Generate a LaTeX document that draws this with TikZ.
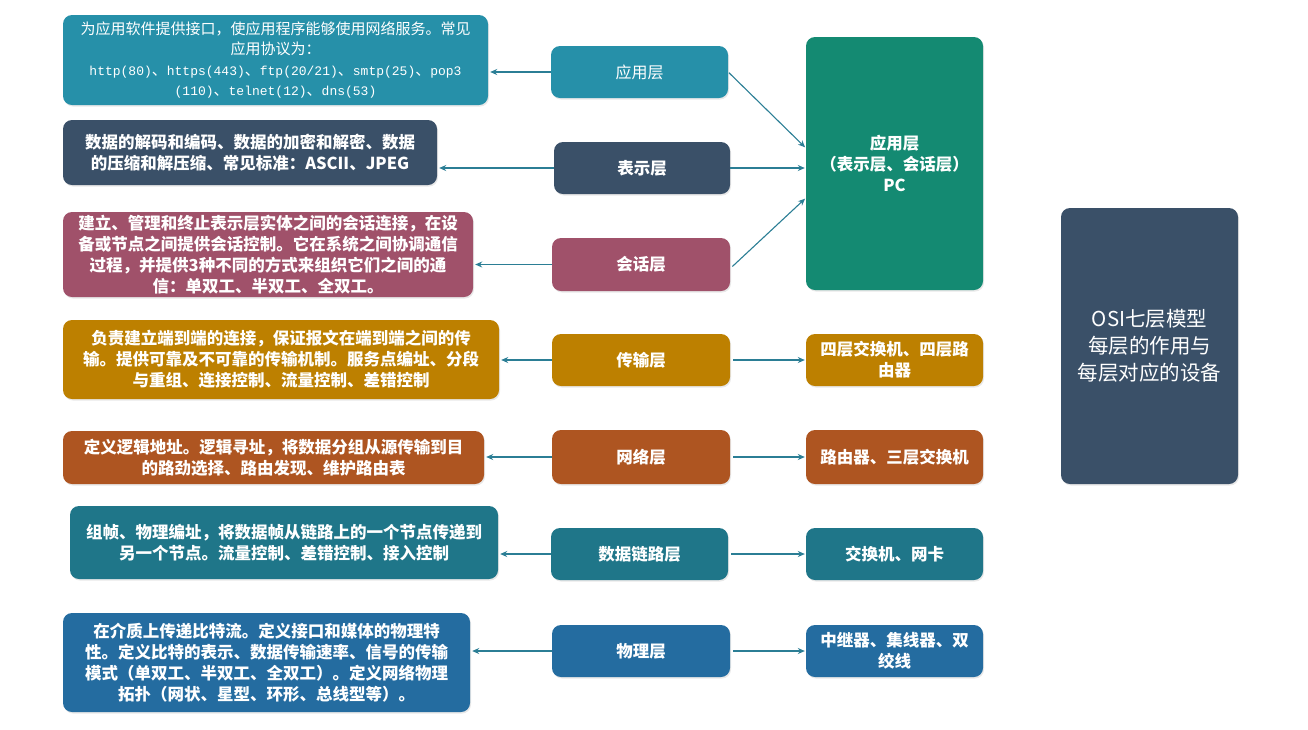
\documentclass[tikz,border=0pt]{standalone}
\usepackage{fontspec}
\setmainfont{Noto Sans CJK SC}
\newfontfamily\monofnt{Liberation Mono}
\usetikzlibrary{arrows.meta,shadows}
\definecolor{cApp}{HTML}{2690A9}
\definecolor{cPres}{HTML}{3A5068}
\definecolor{cSess}{HTML}{A0516A}
\definecolor{cTrans}{HTML}{BD8000}
\definecolor{cNet}{HTML}{AE5521}
\definecolor{cLink}{HTML}{1F7689}
\definecolor{cPhys}{HTML}{246CA0}
\definecolor{cPC}{HTML}{148A72}
\definecolor{cArr}{HTML}{2B7E95}
\tikzset{
  box/.style={rounded corners=9pt, text=white, align=center, inner sep=0pt,
    drop shadow={opacity=0.18, shadow xshift=1pt, shadow yshift=-1.5pt}},
  txt/.style={font=\fontsize{16.5}{21}\selectfont\bfseries},
  arr/.style={draw=cArr, line width=1.1pt, -{Stealth[length=7pt,width=6pt]}},
}
\begin{document}
\begin{tikzpicture}[x=1pt,y=-1pt]
\useasboundingbox[fill=white] (0,0) rectangle (1308,729);
% left description boxes
\node[box, fill=cApp, minimum width=425, minimum height=90, font=\fontsize{15}{20.5}\selectfont] (d1) at (275.5,60)
 {为应用软件提供接口，使应用程序能够使用网络服务。常见\\应用协议为：\\
 {\monofnt\fontsize{13}{20.5}\selectfont http(80)}、{\monofnt\fontsize{13}{20.5}\selectfont https(443)}、{\monofnt\fontsize{13}{20.5}\selectfont ftp(20/21)}、{\monofnt\fontsize{13}{20.5}\selectfont smtp(25)}、{\monofnt\fontsize{13}{20.5}\selectfont pop3}\\
 {\monofnt\fontsize{13}{20.5}\selectfont (110)}、{\monofnt\fontsize{13}{20.5}\selectfont telnet(12)}、{\monofnt\fontsize{13}{20.5}\selectfont dns(53)}};
\node[box, txt, fill=cPres, minimum width=374, minimum height=65] (d2) at (250,152.5)
 {数据的解码和编码、数据的加密和解密、数据\\的压缩和解压缩、常见标准：ASCII、JPEG};
\node[box, txt, fill=cSess, minimum width=410, minimum height=85] (d3) at (268,254.5)
 {建立、管理和终止表示层实体之间的会话连接，在设\\备或节点之间提供会话控制。它在系统之间协调通信\\过程，并提供3种不同的方式来组织它们之间的通\\信：单双工、半双工、全双工。};
\node[box, txt, fill=cTrans, minimum width=436, minimum height=79] (d4) at (281,359.5)
 {负责建立端到端的连接，保证报文在端到端之间的传\\输。提供可靠及不可靠的传输机制。服务点编址、分段\\与重组、连接控制、流量控制、差错控制};
\node[box, txt, fill=cNet, minimum width=421, minimum height=53] (d5) at (273.5,457.5)
 {定义逻辑地址。逻辑寻址，将数据分组从源传输到目\\的路劲选择、路由发现、维护路由表};
\node[box, txt, fill=cLink, minimum width=428, minimum height=73] (d6) at (284,542.5)
 {组帧、物理编址，将数据帧从链路上的一个节点传递到\\另一个节点。流量控制、差错控制、接入控制};
\node[box, txt, fill=cPhys, minimum width=407, minimum height=99] (d7) at (266.5,662.5)
 {在介质上传递比特流。定义接口和媒体的物理特\\性。定义比特的表示、数据传输速率、信号的传输\\模式（单双工、半双工、全双工）。定义网络物理\\拓扑（网状、星型、环形、总线型等）。};
% middle layer boxes
\node[box, fill=cApp, minimum width=177, minimum height=52, font=\fontsize{16}{21}\selectfont] (m1) at (639.5,72) {应用层};
\node[box, txt, fill=cPres, minimum width=176, minimum height=52] (m2) at (642,168) {表示层};
\node[box, txt, fill=cSess, minimum width=178, minimum height=53] (m3) at (641,264.5) {会话层};
\node[box, txt, fill=cTrans, minimum width=178, minimum height=52] (m4) at (641,360) {传输层};
\node[box, txt, fill=cNet, minimum width=178, minimum height=54] (m5) at (641,457) {网络层};
\node[box, txt, fill=cLink, minimum width=177, minimum height=52] (m6) at (639.5,554) {数据链路层};
\node[box, txt, fill=cPhys, minimum width=178, minimum height=52] (m7) at (641,651) {物理层};
% right device boxes
\node[box, txt, fill=cPC, minimum width=177, minimum height=253] (r0) at (894.5,163.5) {应用层\\（表示层、会话层）\\PC};
\node[box, txt, fill=cTrans, minimum width=177, minimum height=52] (r4) at (894.5,360) {四层交换机、四层路\\由器};
\node[box, txt, fill=cNet, minimum width=177, minimum height=54] (r5) at (894.5,457) {路由器、三层交换机};
\node[box, txt, fill=cLink, minimum width=177, minimum height=52] (r6) at (894.5,554) {交换机、网卡};
\node[box, txt, fill=cPhys, minimum width=177, minimum height=52] (r7) at (894.5,651) {中继器、集线器、双\\绞线};
% title box
\node[box, fill=cPres, minimum width=177, minimum height=276, font=\fontsize{20.5}{27}\selectfont] (t) at (1149.5,346) {OSI七层模型\\每层的作用与\\每层对应的设备};
% arrows to descriptions
\foreach \m/\d in {m1/d1,m2/d2,m3/d3,m4/d4,m5/d5,m6/d6,m7/d7}
  \draw[arr, shorten >=2pt] (\m.west) -- (\d.east |- \m.west);
% arrows to devices
\draw[arr, shorten <=1pt, shorten >=1pt] (m1.east) -- ([yshift=15.5pt]r0.west);
\draw[arr, shorten >=1pt] (m2.east) -- (r0.west |- m2.east);
\draw[arr, shorten <=3pt, shorten >=1pt] ([shift={(0pt,-4pt)}]m3.east) -- ([yshift=-34.5pt]r0.west);
\foreach \m/\r in {m4/r4,m5/r5,m6/r6,m7/r7}
  \draw[arr, shorten <=3pt, shorten >=1pt] (\m.east) -- (\r.west |- \m.east);
\end{tikzpicture}
\end{document}
